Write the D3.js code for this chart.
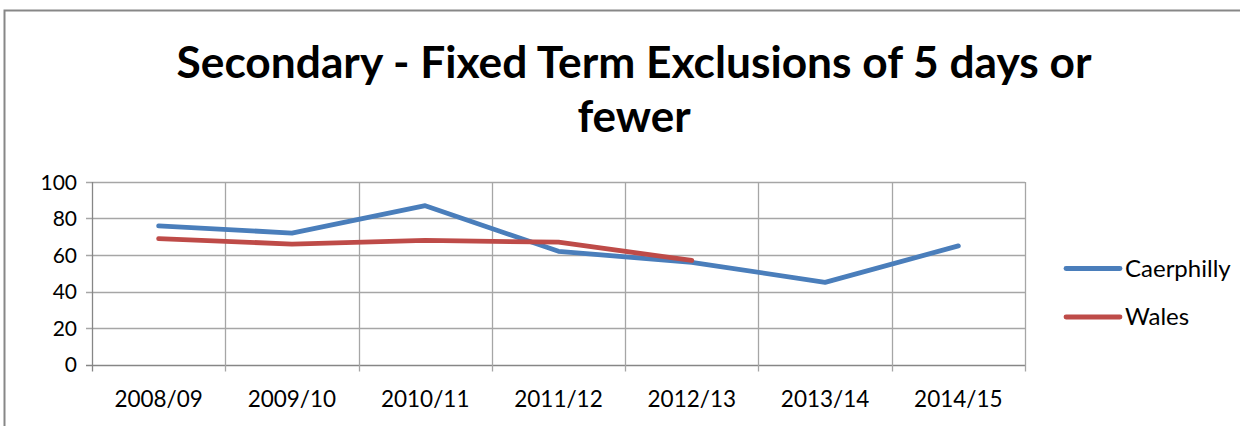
<!DOCTYPE html>
<html>
<head>
<meta charset="utf-8">
<script src="https://cdnjs.cloudflare.com/ajax/libs/d3/7.8.5/d3.min.js"></script>
<style>
  body { margin: 0; background: #fff; }
  svg { display: block; font-family: Lato, "Open Sans", sans-serif; }
</style>
</head>
<body>
<div id="divbody"></div>
<script>
var years = ["2008/09", "2009/10", "2010/11", "2011/12", "2012/13", "2013/14", "2014/15"];
var caerphilly = [76, 72, 87, 62, 56, 45, 65];
var wales = [69, 66, 68, 67, 57];
var yTicks = [0, 20, 40, 60, 80, 100];
var seriesNames = ["Caerphilly", "Wales"];
var seriesColors = ["#4a7ebb", "#be4b48"];

var width = 1240, height = 426;
var plot = {left: 92, right: 1025, top: 182, bottom: 364.5};

var svg = d3.select("#divbody").append("svg")
  .attr("width", width)
  .attr("height", height);

// chart frame
svg.append("rect")
  .attr("x", 4.5).attr("y", 10.5)
  .attr("width", 1260).attr("height", 440)
  .attr("fill", "none").attr("stroke", "#878787").attr("stroke-width", 2);

// title
var title = svg.append("text")
  .attr("text-anchor", "middle")
  .attr("font-weight", "bold")
  .attr("font-size", 44)
  .attr("fill", "#000");
title.append("tspan").attr("x", 634).attr("y", 78)
  .attr("textLength", 915).attr("lengthAdjust", "spacingAndGlyphs")
  .text("Secondary - Fixed Term Exclusions of 5 days or");
title.append("tspan").attr("x", 634).attr("y", 132).text("fewer");

var x = d3.scaleBand().domain(years).range([plot.left, plot.right]);
var y = d3.scaleLinear().domain([0, 100]).range([plot.bottom, plot.top]);

// horizontal grid
svg.append("g").selectAll("line")
  .data(yTicks)
  .enter().append("line")
  .attr("x1", plot.left - 6).attr("x2", plot.right)
  .attr("y1", function(d) { return Math.round(y(d)) + 0.5; })
  .attr("y2", function(d) { return Math.round(y(d)) + 0.5; })
  .attr("stroke", function(d) { return d === 0 ? "#868686" : "#a6a6a6"; })
  .attr("stroke-width", 1.3);

// vertical grid at category boundaries
var bounds = years.map(function(d) { return x(d); }).concat([plot.right]);
svg.append("g").selectAll("line")
  .data(bounds)
  .enter().append("line")
  .attr("x1", function(d) { return Math.round(d) + 0.5; })
  .attr("x2", function(d) { return Math.round(d) + 0.5; })
  .attr("y1", plot.top)
  .attr("y2", plot.bottom + 7)
  .attr("stroke", function(d, i) { return i === 0 ? "#868686" : "#a6a6a6"; })
  .attr("stroke-width", 1.3);

// y labels
svg.append("g").selectAll("text")
  .data(yTicks)
  .enter().append("text")
  .attr("x", 77)
  .attr("y", function(d) { return y(d) + 7.5; })
  .attr("text-anchor", "end")
  .attr("font-size", 21)
  .attr("fill", "#000")
  .text(function(d) { return d; });

// x labels
svg.append("g").selectAll("text")
  .data(years)
  .enter().append("text")
  .attr("x", function(d) { return x(d) + x.bandwidth() / 2; })
  .attr("y", 406.5)
  .attr("text-anchor", "middle")
  .attr("font-size", 22.5)
  .attr("fill", "#000")
  .text(function(d) { return d; });

// lines
var line = d3.line()
  .x(function(d, i) { return x(years[i]) + x.bandwidth() / 2; })
  .y(function(d) { return y(d); });

[caerphilly, wales].forEach(function(vals, i) {
  svg.append("path")
    .datum(vals)
    .attr("d", line)
    .attr("fill", "none")
    .attr("stroke", seriesColors[i])
    .attr("stroke-width", 4.8)
    .attr("stroke-linejoin", "round")
    .attr("stroke-linecap", "round");
});

// legend
var legend = svg.append("g").selectAll("g")
  .data(seriesNames)
  .enter().append("g")
  .attr("transform", function(d, i) { return "translate(1066," + (268.5 + i * 48.5) + ")"; });
legend.append("line")
  .attr("x1", 0).attr("x2", 54)
  .attr("stroke", function(d, i) { return seriesColors[i]; })
  .attr("stroke-width", 4.8)
  .attr("stroke-linecap", "round");
legend.append("text")
  .attr("x", 59).attr("y", 8)
  .attr("font-size", 24)
  .attr("fill", "#000")
  .text(function(d) { return d; });
</script>
</body>
</html>
